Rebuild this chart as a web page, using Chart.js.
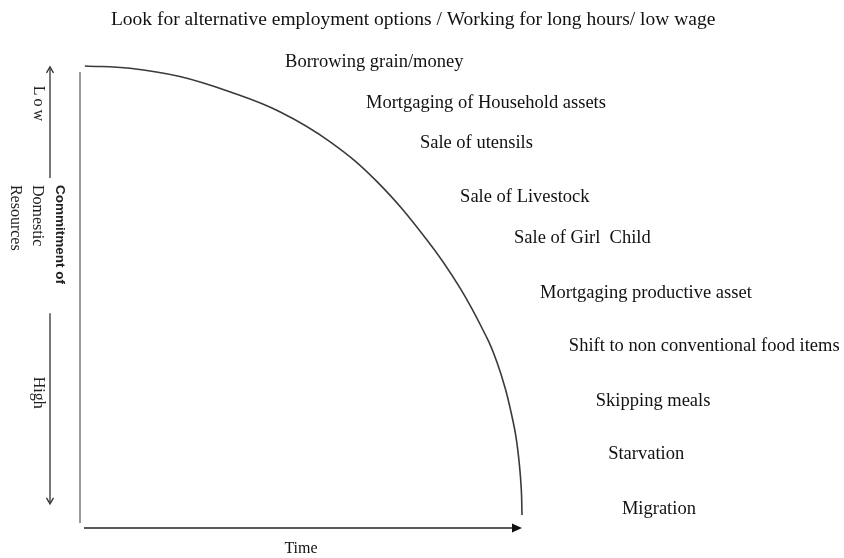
<!DOCTYPE html>
<html lang="en">
  <head>
    <meta charset="UTF-8" />
    <script src="https://cdn.jsdelivr.net/npm/chart.js@4"></script>
    <title>Coping strategies over time</title>
    <style>
      body { margin: 0; background: #fff; }
    </style>
  </head>
  <body>
    <canvas id="coping-graph" width="844" height="558"></canvas>
  </body>

  <script>
    // curve: time (0-100) vs commitment of domestic resources (0-100, high at bottom)
    const curveTime  = [1.1, 11.3, 22.6, 33.9, 45.2, 56.6, 67.2, 78.5, 86.0, 92.1, 94.3, 96.2, 97.5, 98.6, 99.4, 99.85, 100];
    const curveLevel = [99.8, 99.3, 97.5, 94.2, 89.9, 83.4, 74.8, 62.2, 51.8, 41.0, 35.9, 30.2, 25.1, 19.9, 13.8, 8.2, 2.8];

    // coping stages, placed in the same time / commitment units
    const stageNames = [
      'Look for alternative employment options / Working for long hours/ low wage',
      'Borrowing grain/money',
      'Mortgaging of Household assets',
      'Sale of utensils',
      'Sale of Livestock',
      'Sale of Girl  Child',
      'Mortgaging productive asset',
      'Shift to non conventional food items',
      'Skipping meals',
      'Starvation',
      'Migration'
    ];
    const stageTime  = [7.0, 46.4, 64.7, 76.9, 86.0, 98.2, 104.1, 110.6, 116.7, 119.5, 122.6];
    const stageLevel = [109.7, 100.6, 91.8, 83.2, 71.5, 62.6, 50.8, 39.3, 27.4, 16.0, 4.1];

    const xTitle = 'Time';
    const yTitle = ['Commitment of', 'Domestic', 'Resources'];
    const yEnds = ['Low', 'High'];

    const serif = '"Liberation Serif", "Times New Roman", serif';

    const decorations = {
      id: 'decorations',
      afterDatasetsDraw(chart) {
        const ctx = chart.ctx;
        const a = chart.chartArea;
        const x = chart.scales.x, y = chart.scales.y;

        ctx.save();
        // vertical axis (grey)
        ctx.strokeStyle = '#9a9a9a';
        ctx.lineWidth = 2;
        ctx.beginPath();
        ctx.moveTo(a.left, a.top + 7);
        ctx.lineTo(a.left, a.bottom - 5);
        ctx.stroke();

        // time axis with arrow
        ctx.strokeStyle = '#222';
        ctx.fillStyle = '#111';
        ctx.lineWidth = 1.6;
        ctx.beginPath();
        ctx.moveTo(a.left + 4, a.bottom);
        ctx.lineTo(a.right - 8, a.bottom);
        ctx.stroke();
        ctx.beginPath();
        ctx.moveTo(a.right, a.bottom);
        ctx.lineTo(a.right - 10, a.bottom - 4.5);
        ctx.lineTo(a.right - 10, a.bottom + 4.5);
        ctx.closePath();
        ctx.fill();

        // commitment arrow on the left
        const ax = 50;
        ctx.strokeStyle = '#333';
        ctx.lineWidth = 1.3;
        ctx.beginPath();
        ctx.moveTo(ax, y.getPixelForValue(99.2));
        ctx.lineTo(ax, y.getPixelForValue(75.6));
        ctx.moveTo(ax, y.getPixelForValue(46.4));
        ctx.lineTo(ax, y.getPixelForValue(5.6));
        ctx.stroke();
        let t = y.getPixelForValue(99.6);
        ctx.beginPath();
        ctx.moveTo(ax - 3.5, t + 6);
        ctx.lineTo(ax, t);
        ctx.lineTo(ax + 3.5, t + 6);
        ctx.stroke();
        let b = y.getPixelForValue(5.2);
        ctx.beginPath();
        ctx.moveTo(ax - 3.5, b - 6);
        ctx.lineTo(ax, b);
        ctx.lineTo(ax + 3.5, b - 6);
        ctx.stroke();

        // rotated labels
        ctx.fillStyle = '#222';
        ctx.textBaseline = 'middle';
        ctx.textAlign = 'center';
        ctx.font = '16px ' + serif;
        [[yEnds[0], 91.4, '3px'], [yEnds[1], 29.2, '0px']].forEach(function (p) {
          ctx.save();
          ctx.translate(38, y.getPixelForValue(p[1]));
          ctx.rotate(Math.PI / 2);
          ctx.letterSpacing = p[2];
          ctx.fillText(p[0], 0, 0);
          ctx.restore();
        });
        ctx.save();
        ctx.translate(60, y.getPixelForValue(74.1));
        ctx.rotate(Math.PI / 2);
        ctx.textAlign = 'left';
        ctx.font = 'bold 13.5px "Liberation Sans Narrow", "Liberation Sans", Arial, sans-serif';
        ctx.fillText(yTitle[0], 0, 0);
        ctx.font = '16px ' + serif;
        ctx.fillText(yTitle[1], 0, 23);
        ctx.fillText(yTitle[2], 0, 45);
        ctx.restore();

        // x axis title
        ctx.font = '16px ' + serif;
        ctx.fillStyle = '#111';
        ctx.fillText(xTitle, (a.left + a.right) / 2, a.bottom + 21);

        // stage labels
        ctx.textAlign = 'left';
        stageNames.forEach(function (name, i) {
          ctx.font = (i === 0 ? '19.5px ' : '18.5px ') + serif;
          ctx.fillText(name, x.getPixelForValue(stageTime[i]), y.getPixelForValue(stageLevel[i]));
        });
        ctx.restore();
      }
    };

    const copingChart = document.getElementById('coping-graph').getContext('2d');
    var copingGraph = new Chart(copingChart, {
      type: 'scatter',
      data: {
        datasets: [{
          data: curveTime.map(function (t, i) { return { x: t, y: curveLevel[i] }; }),
          showLine: true,
          tension: 0.4,
          borderColor: '#3a3a3a',
          borderWidth: 1.6,
          pointRadius: 0,
          clip: false
        }]
      },
      options: {
        responsive: false,
        animation: false,
        layout: { padding: { left: 80, right: 322, top: 65, bottom: 30 } },
        plugins: { legend: { display: false }, tooltip: { enabled: false } },
        scales: {
          x: { type: 'linear', min: 0, max: 100, display: false },
          y: { type: 'linear', min: 0, max: 100, display: false }
        }
      },
      plugins: [decorations]
    });
  </script>
</html>
